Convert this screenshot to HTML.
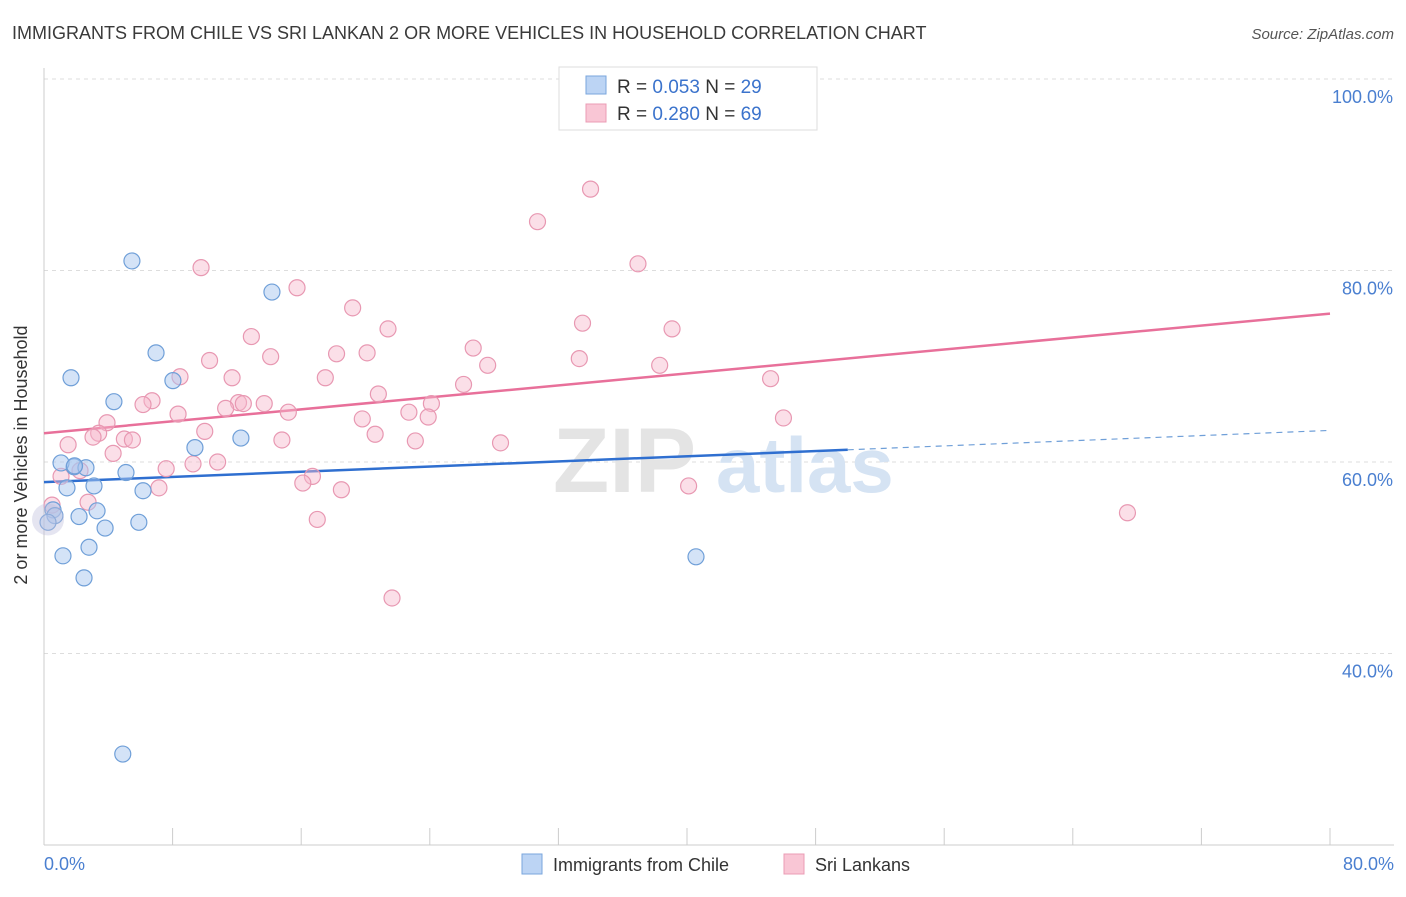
<!DOCTYPE html>
<html><head><meta charset="utf-8"><style>
body{margin:0;background:#fff;font-family:"Liberation Sans",sans-serif}
svg text{font-family:"Liberation Sans",sans-serif}
</style></head><body>
<svg id="chart" width="1406" height="892" xmlns="http://www.w3.org/2000/svg">
<text x="12" y="39" font-size="18" fill="#3a3a3a">IMMIGRANTS FROM CHILE VS SRI LANKAN 2 OR MORE VEHICLES IN HOUSEHOLD CORRELATION CHART</text>
<text x="1394" y="39" font-size="15" fill="#555" font-style="italic" text-anchor="end">Source: ZipAtlas.com</text>
<g id="grid"></g>
<g><text x="553" y="492" font-size="92" fill="#e4e4e4" font-family="Liberation Serif" font-weight="bold">ZIP</text><text x="716" y="492" font-size="78" fill="#d5e3f3" font-weight="bold">atlas</text></g>
<g id="axes"></g>
<g id="trend"></g>
<g id="points"></g>
<text x="27" y="455" font-size="18" fill="#333" text-anchor="middle" transform="rotate(-90 27 455)">2 or more Vehicles in Household</text>
<text x="44" y="870" font-size="18" fill="#4a7fd0">0.0%</text>
<text x="1394" y="870" font-size="18" fill="#4a7fd0" text-anchor="end">80.0%</text>
<g>
<rect x="559" y="67" width="258" height="63" fill="#fff" stroke="#ddd"/>
<rect x="586" y="76" width="20" height="18" fill="#bcd4f4" stroke="#7aa6dd"/>
<rect x="586" y="104" width="20" height="18" fill="#f9c6d5" stroke="#eb9cb5"/>
<text x="617" y="93" font-size="19" fill="#333">R = <tspan fill="#3b73cc">0.053</tspan>   N = <tspan fill="#3b73cc">29</tspan></text>
<text x="617" y="120" font-size="19" fill="#333">R = <tspan fill="#3b73cc">0.280</tspan>   N = <tspan fill="#3b73cc">69</tspan></text>
</g>
<g>
<rect x="522" y="854" width="20" height="20" fill="#bcd4f4" stroke="#7aa6dd"/>
<text x="553" y="871" font-size="18" fill="#333">Immigrants from Chile</text>
<rect x="784" y="854" width="20" height="20" fill="#f9c6d5" stroke="#eb9cb5"/>
<text x="815" y="871" font-size="18" fill="#333">Sri Lankans</text>
</g>
</svg>
<script>
const yTicks=[40,60,80,100];
const yTickLabels=["40.0%","60.0%","80.0%","100.0%"];
const xTicks=[0,8,16,24,32,40,48,56,64,72,80];
const chileX=[5.47,14.18,6.97,1.68,8.02,4.35,12.25,9.39,1.87,1.06,2.61,5.1,1.43,3.11,6.16,0.56,0.68,2.18,3.3,5.9,3.8,0.25,1.18,2.8,2.49,40.56,4.9,1.9];
const chileY=[81.0,77.75,71.4,68.8,68.5,66.3,62.5,61.5,59.5,59.9,59.4,58.9,57.3,57.5,57.0,55.0,54.4,54.3,54.9,53.7,53.1,53.7,50.2,51.1,47.9,50.1,29.5,59.6];
const slX=[34.0,30.7,36.95,9.77,15.74,19.2,33.5,21.4,39.07,12.9,26.7,18.2,20.1,14.1,10.3,33.3,27.6,38.3,17.5,8.46,11.7,45.2,26.1,20.8,6.72,6.16,12.1,12.4,13.7,11.3,24.1,15.2,22.7,8.34,23.9,19.8,46.0,3.92,10.0,3.4,20.6,3.05,5.0,5.5,14.8,23.1,28.4,1.5,4.3,10.8,9.27,7.6,2.24,16.7,1.06,16.1,7.15,18.5,40.1,2.74,0.5,17.0,67.4,21.65];
const slY=[88.5,85.1,80.7,80.3,78.2,76.1,74.5,73.9,73.9,73.1,71.9,71.3,71.4,71.0,70.6,70.8,70.1,70.1,68.8,68.9,68.8,68.7,68.1,67.1,66.4,66.0,66.2,66.1,66.1,65.6,66.1,65.2,65.2,65.0,64.7,64.5,64.6,64.1,63.2,63.0,62.9,62.6,62.4,62.3,62.3,62.2,62.0,61.8,60.9,60.0,59.8,59.3,59.1,58.5,58.5,57.8,57.3,57.1,57.5,55.8,55.5,54.0,54.7,45.8];
const chileTrend=[57.9,63.3]; const slTrend=[63.0,75.5];
const X=v=>44+v*16.075, Y=v=>79+(100-v)*9.575;
const NS="http://www.w3.org/2000/svg";
function mk(p,t,a){const e=document.createElementNS(NS,t);for(const k in a)e.setAttribute(k,a[k]);p.appendChild(e);return e;}
const grid=document.getElementById('grid'),axes=document.getElementById('axes'),tr=document.getElementById('trend'),pts=document.getElementById('points');
yTicks.forEach((t,i)=>{
 const l=mk(grid,'line',{x1:44,x2:1394,y1:Y(t),y2:Y(t),stroke:'#ddd','stroke-dasharray':'4,4'});
 
 
 const tx=mk(grid,'text',{x:1393,y:Y(t)+24,'font-size':18,fill:'#4a7fd0','text-anchor':'end'});
 tx.textContent=yTickLabels[i];
 
 
});
mk(axes,'line',{x1:44,x2:44,y1:68,y2:845,stroke:'#ccc'});
mk(axes,'line',{x1:44,x2:1394,y1:845,y2:845,stroke:'#ccc'});
xTicks.forEach(t=>{const l=mk(axes,'line',{x1:X(t),x2:X(t),y1:828,y2:845,stroke:'#ccc'});
 
 });
let l1=mk(tr,'line',{x1:X(0),y1:Y(slTrend[0]),x2:X(80),y2:Y(slTrend[1]),stroke:'#e8709a','stroke-width':2.5});


const cy=v=>chileTrend[0]+(chileTrend[1]-chileTrend[0])*v/80;
let l2=mk(tr,'line',{x1:X(0),y1:Y(cy(0)),x2:X(50),y2:Y(cy(50)),stroke:'#2f6fd0','stroke-width':2.5});


let l3=mk(tr,'line',{x1:X(50),y1:Y(cy(50)),x2:X(80),y2:Y(cy(80)),stroke:'#6f9fd8','stroke-width':1.2,'stroke-dasharray':'6,5'});


slX.forEach((x,i)=>{const c=mk(pts,'circle',{cx:X(x),cy:Y(slY[i]),r:8,fill:'rgba(246,184,203,0.45)',stroke:'#e898b2','stroke-width':1.2});
 
 });
chileX.forEach((x,i)=>{const c=mk(pts,'circle',{cx:X(x),cy:Y(chileY[i]),r:8,fill:'rgba(170,200,240,0.5)',stroke:'#6f9fd8','stroke-width':1.2});
 
 });
const big=mk(pts,'circle',{cx:X(0.25),cy:Y(54),r:16,fill:'rgba(190,190,220,0.4)',stroke:'none'});


</script>
</body></html>
